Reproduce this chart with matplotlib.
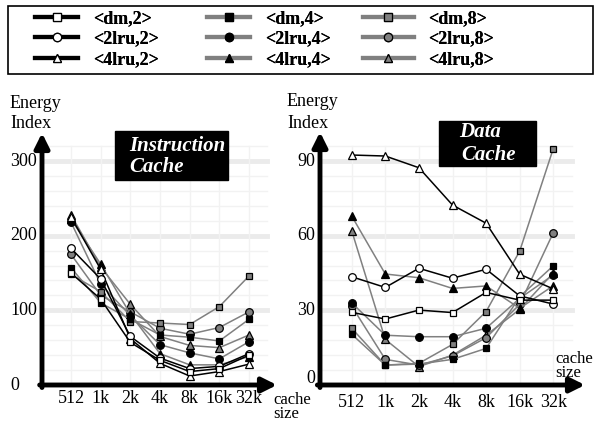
import matplotlib
matplotlib.use('Agg')

import matplotlib.pyplot as plt
from matplotlib.lines import Line2D
from matplotlib.patches import Rectangle

plt.rcParams['font.family'] = ['Liberation Serif', 'DejaVu Serif']

# ---- data ----
sizes = ['512', '1k', '2k', '4k', '8k', '16k', '32k']
series = ['<dm,2>', '<2lru,2>', '<4lru,2>',
          '<dm,4>', '<2lru,4>', '<4lru,4>',
          '<dm,8>', '<2lru,8>', '<4lru,8>']

# instruction cache energy index
icache_dm2 = [150, 115, 57, 33, 18, 22, 40]
icache_2lru2 = [183, 142, 65, 36, 22, 25, 42]
icache_4lru2 = [225, 155, 62, 29, 12, 18, 28]
icache_dm4 = [157, 110, 88, 67, 64, 59, 88]
icache_2lru4 = [218, 135, 93, 54, 43, 35, 58]
icache_4lru4 = [222, 162, 95, 42, 27, 27, 38]
icache_dm8 = [148, 125, 85, 83, 81, 105, 146]
icache_2lru8 = [175, 120, 98, 76, 68, 77, 98]
icache_4lru8 = [228, 158, 108, 65, 53, 50, 67]

# data cache energy index
dcache_dm2 = [29.2, 26.5, 30.1, 29.1, 37.2, 34.1, 34.1]
dcache_2lru2 = [43.5, 39.2, 46.9, 42.9, 46.5, 35.8, 32.5]
dcache_4lru2 = [92.4, 92.0, 87.3, 72.3, 65.0, 44.5, 38.6]
dcache_dm4 = [20.4, 8.0, 8.4, 10.3, 14.7, 35.5, 47.9]
dcache_2lru4 = [33.0, 20.0, 19.4, 19.4, 22.8, 34.8, 44.2]
dcache_4lru4 = [67.9, 44.6, 43.1, 38.8, 39.8, 30.8, 39.9]
dcache_dm8 = [22.8, 8.0, 8.7, 16.3, 29.5, 53.8, 95.0]
dcache_2lru8 = [31.7, 10.3, 8.0, 11.7, 19.0, 32.4, 61.2]
dcache_4lru8 = [62.0, 18.3, 7.4, 12.0, 20.0, 30.4, 45.0]

icache = [icache_dm2, icache_2lru2, icache_4lru2, icache_dm4, icache_2lru4,
          icache_4lru4, icache_dm8, icache_2lru8, icache_4lru8]
dcache = [dcache_dm2, dcache_2lru2, dcache_4lru2, dcache_dm4, dcache_2lru4,
          dcache_4lru4, dcache_dm8, dcache_2lru8, dcache_4lru8]

icache_ticks = [0, 100, 200, 300]
dcache_ticks = [0, 30, 60, 90]

GRAY = '#808080'
line_colors = ['black'] * 3 + [GRAY] * 6
face_colors = ['white'] * 3 + ['black'] * 3 + [GRAY] * 3
markers = ['s', 'o', '^'] * 3

W, H = 597, 422
fig = plt.figure(figsize=(W / 100, H / 100), dpi=100)


def fx(x):
    return x / W


def fy(y):
    return 1 - y / H


def make_axes(x0, y0, x_tip, y_tip, x_first, x_step, px_per_unit):
    # position axes so that category i sits at x_first + i*x_step pixels
    ax = fig.add_axes([fx(x0), fy(y0), (x_tip - x0) / W, (y0 - y_tip) / H])
    ax.set_xlim((x0 - x_first) / x_step, (x_tip - x_first) / x_step)
    ax.set_ylim(0, (y0 - y_tip) / px_per_unit)
    for s in ax.spines.values():
        s.set_visible(False)
    ax.set_xticks([])
    ax.set_yticks([])
    ax.patch.set_alpha(0)
    return ax


def draw_panel(ax, data, ticks, minor_step, grid_right, grid_top):
    xs = list(range(len(sizes)))
    # grid
    v = 0
    while v <= grid_top:
        major = v in ticks
        ax.plot([ax.get_xlim()[0], grid_right], [v, v],
                color='#ebebeb' if major else '#f2f2f2',
                lw=3.5 if major else 1.0, zorder=0)
        v += minor_step
    for x in xs:
        ax.plot([x, x], [0, grid_top], color='#f2f2f2', lw=1.0, zorder=0)
    for i, vals in enumerate(data):
        ax.plot(xs, vals, color=line_colors[i], lw=1.1, marker=markers[i],
                markersize=5.5 if markers[i] != 's' else 5,
                markerfacecolor=face_colors[i], markeredgecolor='black',
                markeredgewidth=0.9, zorder=3 + (9 - i) * 0.1, clip_on=False)
    # arrow axes
    ax.annotate('', xy=(0, 1), xytext=(0, -0.01), xycoords='axes fraction',
                arrowprops=dict(arrowstyle='-|>', lw=3.5, color='black',
                                mutation_scale=22, shrinkA=0, shrinkB=0))
    ax.annotate('', xy=(1, 0), xytext=(-0.01, 0), xycoords='axes fraction',
                arrowprops=dict(arrowstyle='-|>', lw=3.5, color='black',
                                mutation_scale=22, shrinkA=0, shrinkB=0))


FS = 13

# ---- left panel: instruction cache ----
ax1 = make_axes(42, 385, 277, 133, 71, 29.67, 224 / 300)
draw_panel(ax1, icache, icache_ticks, 20, 6.6, 320)
for i, s in enumerate(sizes):
    ax1.text(i, -18, s, ha='center', va='center', fontsize=FS, clip_on=False)
for t in icache_ticks:
    ax1.text(-0.977 - 1.08, t, str(t), ha='left', va='center', fontsize=FS)
fig.text(fx(10), fy(103), 'Energy', fontsize=FS, va='center')
fig.text(fx(10), fy(123), 'Index', fontsize=FS, va='center')
fig.text(fx(273), fy(407), 'cache\nsize', fontsize=12, va='center',
         linespacing=0.85)
fig.patches.append(Rectangle((fx(115), fy(180)), 113 / W, 49 / H,
                             transform=fig.transFigure, color='black'))
fig.text(fx(129), fy(146), 'Instruction', color='white', fontsize=15,
         fontweight='bold', style='italic', va='center')
fig.text(fx(129), fy(167), 'Cache', color='white', fontsize=15,
         fontweight='bold', style='italic', va='center')

# ---- right panel: data cache ----
ax2 = make_axes(320, 385, 585, 132, 351.7, 33.6, 224 / 90)
draw_panel(ax2, dcache, dcache_ticks, 6, 6.55, 96)
for i, s in enumerate(sizes):
    ax2.text(i, -7, s, ha='center', va='center', fontsize=FS, clip_on=False)
for t in dcache_ticks:
    ax2.text(-0.943 - 0.15, t + (2.5 if t == 0 else 0), str(t), ha='right',
             va='center', fontsize=FS)
fig.text(fx(287), fy(102), 'Energy', fontsize=FS, va='center')
fig.text(fx(287), fy(123), 'Index', fontsize=FS, va='center')
fig.text(fx(555), fy(366), 'cache\nsize', fontsize=12, va='center',
         linespacing=0.85)
fig.patches.append(Rectangle((fx(439), fy(166)), 97 / W, 45 / H,
                             transform=fig.transFigure, color='black'))
fig.text(fx(459), fy(132), 'Data', color='white', fontsize=15,
         fontweight='bold', style='italic', va='center')
fig.text(fx(461), fy(155), 'Cache', color='white', fontsize=15,
         fontweight='bold', style='italic', va='center')

# ---- legend: one column per associativity group ----
fig.patches.append(Rectangle((fx(8), fy(74)), (593 - 8) / W, 68 / H,
                             transform=fig.transFigure, fill=False,
                             edgecolor='black', lw=1.2))
handles = [Line2D([], [], color=line_colors[i], lw=3, marker=markers[i],
                  markersize=6, markerfacecolor=face_colors[i],
                  markeredgecolor='black', markeredgewidth=0.9)
           for i in range(9)]
col_x = [35, 207, 363]
col_len = [2.4, 2.4, 2.8]
for c in range(3):
    leg = fig.legend(handles[3 * c:3 * c + 3], series[3 * c:3 * c + 3],
                     loc='upper left', bbox_to_anchor=(fx(col_x[c]), fy(10)),
                     prop=dict(weight='bold', size=FS), frameon=False,
                     handlelength=col_len[c], handletextpad=0.8,
                     labelspacing=0.2, borderaxespad=0, borderpad=0)
    fig.add_artist(leg)

fig.savefig('out.png', dpi=100)
